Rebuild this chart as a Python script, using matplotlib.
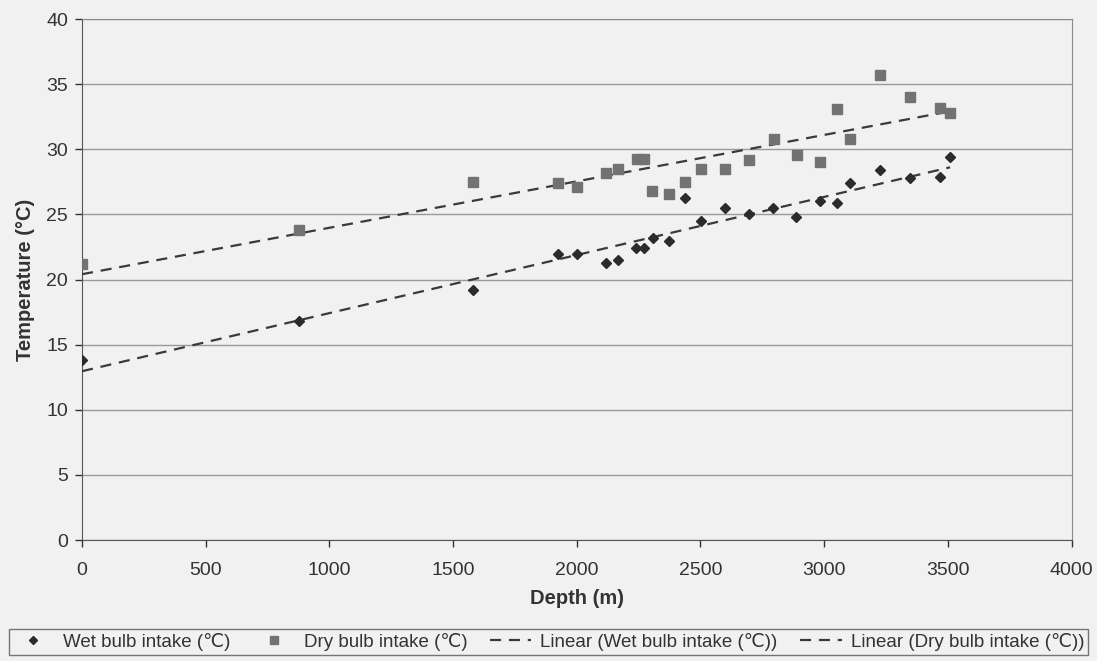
import numpy as np
import matplotlib
matplotlib.use('Agg')
import matplotlib.pyplot as plt

# depth (m) and intake temperatures
wet_depth = [0, 876, 1582, 1922, 2000, 2119, 2166, 2239, 2271, 2307, 2371,
             2436, 2504, 2601, 2696, 2795, 2887, 2984, 3052, 3103, 3224,
             3345, 3467, 3509]
wet_temp = [13.8, 16.8, 19.2, 22.0, 22.0, 21.3, 21.5, 22.4, 22.4, 23.2, 23.0,
            26.3, 24.5, 25.5, 25.0, 25.5, 24.8, 26.0, 25.9, 27.4, 28.4,
            27.8, 27.9, 29.4]

dry_depth = [0, 876, 1582, 1922, 2000, 2119, 2166, 2243, 2273, 2306, 2371,
             2437, 2504, 2601, 2696, 2798, 2890, 2984, 3052, 3103, 3226,
             3345, 3467, 3507]
dry_temp = [21.2, 23.8, 27.5, 27.4, 27.1, 28.2, 28.5, 29.3, 29.3, 26.8, 26.6,
            27.5, 28.5, 28.5, 29.2, 30.8, 29.6, 29.0, 33.1, 30.8, 35.7,
            34.0, 33.2, 32.8]

xticks = [0, 500, 1000, 1500, 2000, 2500, 3000, 3500, 4000]
yticks = [0, 5, 10, 15, 20, 25, 30, 35, 40]

plt.rcParams['font.family'] = ['Liberation Sans', 'DejaVu Sans']

bg = '#f1f1f1'
fig = plt.figure(figsize=(10.97, 6.61), dpi=100, facecolor=bg)
ax = fig.add_axes([0.0748, 0.183, 0.902, 0.788])
ax.set_facecolor(bg)

wet = np.array(wet_depth), np.array(wet_temp)
dry = np.array(dry_depth), np.array(dry_temp)

ax.plot(wet[0], wet[1], linestyle='none', marker='D', markersize=5.5,
        color='#2b2b2b', label='Wet bulb intake (\u2103)', zorder=4)
ax.plot(dry[0], dry[1], linestyle='none', marker='s', markersize=6.5,
        color='#727272', label='Dry bulb intake (\u2103)', zorder=4)

# linear trendlines like Excel
for d, lbl in [(wet, 'Linear (Wet bulb intake (\u2103))'),
               (dry, 'Linear (Dry bulb intake (\u2103))')]:
    k, b = np.polyfit(d[0], d[1], 1)
    xs = np.array([d[0].min(), d[0].max()])
    ax.plot(xs, k * xs + b, linestyle=(0, (5, 3.5)), color='#3a3a3a',
            linewidth=1.6, label=lbl, zorder=3)

ax.set_xlim(0, 4000)
ax.set_ylim(0, 40)
ax.set_xticks(xticks)
ax.set_yticks(yticks)
ax.yaxis.grid(True, color='#9a9a9a', linewidth=1.0)
ax.set_axisbelow(True)
ax.tick_params(axis='both', labelsize=14, colors='#333333', direction='out',
               length=5, width=1)
ax.tick_params(axis='x', pad=11)
ax.tick_params(axis='y', pad=5)
for s in ax.spines.values():
    s.set_color('#8a8a8a')
ax.spines['left'].set_color('#555555')
ax.spines['bottom'].set_color('#555555')

ax.set_xlabel('Depth (m)', fontsize=14.5, fontweight='bold', color='#333333',
              labelpad=7)
ax.set_ylabel('Temperature (\u00b0C)', fontsize=14.5, fontweight='bold',
              color='#333333', labelpad=8)

leg = fig.legend(loc='center', bbox_to_anchor=(0.5, 0.029), ncol=4,
                 fontsize=13.5, frameon=True, fancybox=False, handlelength=2.2,
                 handletextpad=0.5, columnspacing=1.2, borderpad=0.2,
                 borderaxespad=0, edgecolor='#555555', facecolor=bg,
                 markerscale=0.8)
leg.get_frame().set_linewidth(1.0)
for t in leg.get_texts():
    t.set_color('#333333')

fig.savefig('out.png', dpi=100, facecolor=bg)
